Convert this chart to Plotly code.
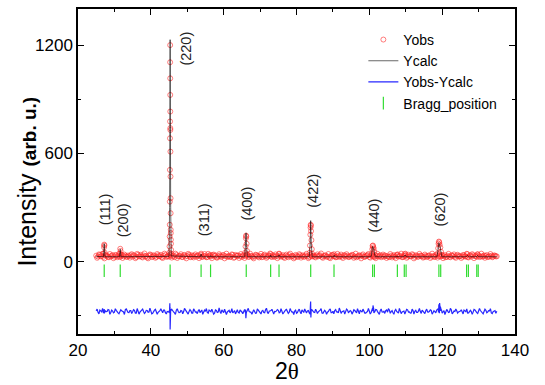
import numpy as np
import plotly.graph_objects as go

# ---------------- data ----------------
# background scan grid 25.0 .. 135.0 (step 0.5) and interleaved grid 25.25 .. 134.75
bg_start, bg_step = 25.0, 0.5
obs_bg = [
    34, 29, 38, 31, 27, 36, 33, 25, 30, 37, 28, 35, 32, 26, 39, 30, 34, 27, 31, 36,
    29, 33, 26, 38, 31, 28, 35, 30, 24, 34, 37, 29, 32, 27, 36, 31, 25, 33, 38, 30,
    28, 34, 31, 26, 37, 30, 33, 27, 35, 29, 32, 38, 25, 31, 34, 28, 36, 30, 27, 33,
    31, 26, 35, 29, 37, 32, 24, 30, 34, 28, 36, 31, 27, 33, 29, 38, 25, 32, 35, 30,
    27, 34, 31, 36, 28, 33, 26, 30, 37, 29, 32, 25, 35, 31, 28, 34, 30, 36, 27, 33,
    29, 35, 31, 26, 34, 30, 37, 28, 32, 25, 33, 29, 36, 31, 27, 35, 30, 26, 34, 32,
    28, 33, 30, 36, 27, 31, 35, 29, 24, 32, 37, 30, 26, 34, 31, 28, 35, 29, 33, 27,
    32, 36, 29, 25, 33, 30, 35, 28, 31, 37, 27, 34, 30, 26, 32, 29, 36, 31, 28, 33,
    30, 26, 34, 31, 28, 36, 29, 33, 25, 31, 35, 28, 32, 30, 37, 27, 33, 29, 34, 31,
    27, 33, 30, 35, 28, 32, 26, 34, 31, 29, 36, 30, 25, 33, 28, 35, 31, 27, 34, 30,
    32, 28, 35, 30, 26, 33, 29, 36, 31, 27, 34, 30, 28, 35, 32, 26, 31, 33, 29, 34,
    30,
]
obs_bg2 = [
    22, 41, 30, 45, 19, 36, 27, 43, 33, 20, 38, 25, 44, 31, 21, 40, 28, 35, 23, 42,
    37, 20, 44, 29, 39, 24, 46, 32, 19, 41, 26, 36, 22, 43, 30, 38, 21, 45, 27, 34,
    40, 23, 35, 45, 21, 31, 42, 26, 38, 19, 44, 29, 36, 24, 41, 33, 20, 39, 28, 43,
    25, 44, 31, 20, 40, 35, 23, 42, 28, 37, 19, 45, 30, 26, 41, 22, 38, 34, 21, 43,
    36, 21, 42, 27, 45, 30, 19, 39, 33, 24, 44, 28, 40, 22, 35, 46, 26, 31, 41, 20,
    43, 28, 37, 21, 40, 25, 45, 32, 19, 38, 27, 42, 23, 36, 30, 44, 20, 39, 29, 34,
    24, 41, 33, 46, 22, 35, 28, 43, 20, 38, 31, 25, 44, 27, 40, 21, 36, 42, 26, 32,
    39, 22, 45, 30, 36, 19, 41, 27, 34, 43, 23, 38, 29, 20, 44, 32, 25, 40, 35, 21,
    28, 43, 24, 37, 20, 41, 31, 45, 26, 35, 22, 39, 30, 42, 19, 36, 27, 44, 33, 23,
    40, 26, 34, 21, 45, 29, 38, 23, 42, 31, 20, 37, 27, 44, 25, 35, 41, 22, 39, 30,
    21, 38, 29, 44, 24, 36, 42, 20, 33, 40, 26, 45, 31, 22, 37, 28, 43, 25, 35, 30,
]
diff_bg = [
    -272, -280, -268, -277, -284, -270, -275, -266, -281, -273, -279, -269, -283, -274, -271, -278, -265, -276, -282, -270,
    -277, -269, -284, -273, -279, -266, -275, -281, -270, -278, -272, -285, -268, -276, -280, -271, -274, -267, -282, -275,
    -279, -270, -276, -283, -268, -274, -281, -272, -277, -266, -280, -275, -271, -284, -269, -278, -273, -282, -267, -276,
    -274, -281, -268, -277, -272, -285, -270, -279, -275, -266, -282, -273, -278, -269, -276, -283, -271, -274, -280, -267,
    -278, -272, -283, -269, -276, -280, -271, -275, -284, -268, -277, -273, -281, -266, -279, -274, -270, -282, -275, -272,
    -269, -279, -274, -282, -267, -276, -280, -271, -278, -273, -285, -270, -277, -266, -281, -275, -272, -283, -268, -276,
    -281, -273, -277, -268, -284, -271, -275, -279, -266, -282, -274, -270, -278, -283, -269, -276, -272, -280, -267, -277,
    -274, -280, -270, -283, -276, -268, -279, -272, -284, -275, -269, -281, -273, -277, -266, -282, -271, -278, -274, -270,
    -279, -267, -276, -282, -271, -275, -284, -269, -278, -273, -280, -266, -277, -283, -270, -274, -281, -272, -276, -268,
    -283, -271, -278, -274, -269, -281, -276, -267, -280, -273, -285, -270, -277, -272, -279, -266, -282, -275, -271, -278,
    -273, -280, -268, -277, -284, -271, -276, -279, -267, -282, -274, -270, -281, -275, -269, -278, -272, -283, -276, -270,
    -274,
]
diff_bg2 = [
    -262, -289, -271, -258, -286, -276, -264, -291, -268, -283, -260, -279, -288, -266, -273, -292, -261, -281, -270, -287,
    -265, -284, -259, -290, -274, -262, -286, -269, -280, -257, -288, -272, -263, -291, -277, -260, -283, -267, -289, -275,
    -286, -263, -278, -292, -260, -282, -270, -288, -258, -276, -290, -265, -284, -261, -279, -287, -264, -273, -291, -268,
    -259, -285, -273, -262, -290, -267, -281, -256, -287, -274, -263, -292, -270, -283, -260, -278, -289, -266, -284, -271,
    -288, -264, -280, -258, -277, -291, -266, -285, -261, -274, -289, -269, -282, -257, -287, -272, -263, -290, -276, -265,
    -283, -260, -289, -271, -264, -286, -259, -279, -292, -268, -281, -262, -288, -275, -261, -284, -270, -290, -266, -280,
    -263, -287, -274, -259, -285, -269, -291, -276, -261, -282, -288, -265, -278, -256, -286, -273, -290, -262, -281, -270,
    -290, -266, -281, -260, -288, -272, -262, -284, -277, -258, -289, -268, -283, -264, -276, -291, -261, -279, -286, -267,
    -260, -285, -270, -291, -264, -280, -258, -287, -273, -289, -263, -278, -284, -262, -290, -269, -281, -259, -286, -274,
    -287, -262, -279, -266, -290, -271, -283, -260, -285, -268, -276, -292, -264, -281, -258, -288, -273, -261, -284, -277,
    -266, -289, -275, -261, -283, -269, -291, -264, -280, -286, -259, -277, -288, -263, -282, -271, -260, -287, -274, -285,
]

# observed points inside the reflections
obs_peak_x = [27.05, 27.15, 27.2, 27.25, 27.35,
              31.5, 31.6, 31.7, 31.8,
              45.10, 45.14, 45.17, 45.20, 45.22, 45.24, 45.26, 45.28, 45.30, 45.31,
              45.32, 45.33, 45.34, 45.35, 45.36, 45.38, 45.40, 45.42, 45.44, 45.46,
              45.48, 45.50, 45.53, 45.56, 45.60,
              53.8, 56.4,
              65.9, 66.0, 66.1, 66.15, 66.2, 66.3, 66.4, 66.5,
              72.9, 75.2,
              83.6, 83.7, 83.8, 83.85, 83.9, 83.95, 84.0, 84.1, 84.2, 84.3,
              90.3,
              100.6, 100.8, 100.9, 101.0, 101.1, 101.2, 101.4, 101.6,
              107.7, 109.7, 109.9,
              118.7, 118.9, 119.0, 119.1, 119.2, 119.3, 119.5, 119.7, 119.9,
              126.9, 129.7]
obs_peak_y = [45, 80, 95, 90, 50,
              45, 72, 60, 38,
              50, 85, 140, 205, 333, 509, 684, 777, 1105, 1200,
              1016, 924, 832, 740, 730, 610, 472, 352, 269, 177,
              159, 122, 100, 66, 45,
              45, 38,
              50, 85, 130, 145, 140, 100, 60, 40,
              42, 45,
              50, 90, 150, 190, 205, 200, 170, 120, 70, 45,
              42,
              45, 70, 88, 90, 80, 72, 55, 38,
              38, 42, 45,
              45, 75, 100, 112, 108, 95, 80, 55, 38,
              42, 42]

# calculated profile
calc_x = [25.0, 27.0, 27.2, 27.4, 31.4, 31.6, 31.8,
          45.0, 45.15, 45.3, 45.45, 45.6,
          53.6, 53.8, 54.0, 56.3, 56.4, 56.5,
          65.8, 66.0, 66.15, 66.3, 66.5,
          72.8, 72.9, 73.0, 75.0, 75.2, 75.4,
          83.5, 83.75, 83.9, 84.05, 84.3,
          90.2, 90.35, 90.5,
          100.5, 100.9, 101.2, 101.6,
          107.6, 107.7, 107.8, 109.5, 109.8, 110.1,
          118.6, 119.1, 119.4, 119.9,
          126.6, 126.95, 127.3, 129.4, 129.7, 130.0, 135.0]
calc_y = [30, 28, 100, 28, 28, 70, 28,
          30, 300, 1230, 300, 32,
          28, 42, 28, 28, 34, 28,
          28, 80, 160, 80, 28,
          28, 36, 28, 28, 38, 28,
          28, 100, 228, 100, 28,
          28, 36, 28,
          28, 85, 70, 28,
          28, 33, 28, 28, 38, 28,
          28, 105, 85, 28,
          28, 35, 28, 28, 35, 28, 28]

# difference features inside the reflections
diff_peak_x = [27.2, 31.6,
               45.15, 45.22, 45.27, 45.30, 45.33, 45.37, 45.45,
               66.0, 66.1, 66.2,
               83.8, 83.88, 83.95, 84.05,
               100.9, 101.0, 101.2,
               118.9, 119.1, 119.3, 119.5, 119.8]
diff_peak_y = [-262, -266,
               -265, -230, -250, -375, -330, -285, -262,
               -265, -312, -285,
               -250, -220, -308, -265,
               -255, -242, -260,
               -260, -235, -228, -248, -265]

bragg_x = [27.2, 31.6, 45.3, 53.8, 56.4, 66.2, 72.9, 75.2, 83.9, 90.3,
           100.9, 101.4, 107.7, 109.6, 110.1, 119.1, 119.6, 126.7, 127.2,
           129.5, 129.9]
bragg_y = [-50] * len(bragg_x)

hkl_labels = ["(111)", "(200)", "(220)", "(311)", "(400)", "(422)", "(440)", "(620)"]
hkl_x = [27.3, 32.2, 49.4, 54.6, 66.5, 84.6, 101.3, 119.4]
hkl_y = [288, 232, 1181, 230, 324, 395, 257, 290]

# ---------------- assemble ----------------
bg_x = [bg_start + i * bg_step for i in range(len(obs_bg))]
bg_x2 = [bg_start + bg_step / 2 + i * bg_step for i in range(len(obs_bg2))]

ox = np.array(bg_x + bg_x2 + obs_peak_x)
oy = np.array(obs_bg + obs_bg2 + obs_peak_y)
o = np.argsort(ox, kind="stable")
ox, oy = ox[o], oy[o]

dx = np.array(bg_x + bg_x2 + diff_peak_x)
dy = np.array(diff_bg + diff_bg2 + diff_peak_y)
d = np.argsort(dx, kind="stable")
dx, dy = dx[d], dy[d]

fig = go.Figure()
fig.add_trace(go.Scatter(
    x=ox, y=oy, mode="markers", name="Yobs",
    marker=dict(symbol="circle-open", size=5, color="rgba(255,40,40,0.6)",
                line=dict(width=1, color="rgba(255,40,40,0.6)")),
))
fig.add_trace(go.Scatter(
    x=calc_x, y=calc_y, mode="lines", name="Ycalc",
    line=dict(color="rgba(0,0,0,0.6)", width=1),
))
fig.add_trace(go.Scatter(
    x=dx, y=dy, mode="lines", name="Yobs-Ycalc",
    line=dict(color="rgba(0,0,255,0.85)", width=1.2),
))
fig.add_trace(go.Scatter(
    x=bragg_x, y=bragg_y, mode="markers", name="Bragg_position",
    marker=dict(symbol="line-ns-open", size=9, color="#33dd33",
                line=dict(width=1.2, color="#33dd33")),
))

for lab, xx, yy in zip(hkl_labels, hkl_x, hkl_y):
    fig.add_annotation(x=xx, y=yy, text=lab, textangle=-90, showarrow=False,
                       xref="x", yref="y",
                       font=dict(family="Liberation Sans, Arial", size=14.5, color="#222"))

fig.add_annotation(
    xref="paper", yref="paper", x=-51 / 437, y=0.469,
    text="Intensity <b><span style='font-size:19px'>(arb. u.)</span></b>",
    textangle=-90, showarrow=False, xanchor="center", yanchor="middle",
    font=dict(family="Liberation Sans, Arial", size=25, color="black"),
)
fig.add_annotation(
    xref="paper", yref="paper", x=0.478, y=-37 / 325,
    text="2<span style='font-family:Liberation Serif, Times New Roman'>θ</span>",
    showarrow=False, xanchor="center", yanchor="middle",
    font=dict(family="Liberation Sans, Arial", size=23, color="black"),
)

axis_common = dict(
    showline=True, linecolor="black", linewidth=1.5, mirror="ticks",
    ticks="inside", ticklen=6, tickwidth=1.3, tickcolor="black",
    showgrid=False, zeroline=False, automargin=False,
    tickfont=dict(family="Liberation Sans, Arial", size=17, color="black"),
)
fig.update_xaxes(range=[20, 140], tick0=20, dtick=20,
                 minor=dict(dtick=10, ticklen=3, tickwidth=1.3, tickcolor="black", ticks="inside"),
                 **axis_common)
fig.update_yaxes(range=[-400, 1400], tick0=0, dtick=600,
                 minor=dict(dtick=300, ticklen=3, tickwidth=1.3, tickcolor="black", ticks="inside"),
                 **axis_common)

fig.update_layout(
    width=545, height=385,
    margin=dict(l=78, r=30, t=9, b=51, autoexpand=False),
    paper_bgcolor="white", plot_bgcolor="white",
    font=dict(family="Liberation Sans, Arial", color="black"),
    legend=dict(x=0.653, y=0.954, xanchor="left", yanchor="top",
                bgcolor="rgba(0,0,0,0)", font=dict(size=14),
                tracegroupgap=0, itemwidth=30),
)

fig.write_html("out.html", config={"displayModeBar": False},
               post_script="document.body.style.margin='0';document.body.style.padding='0';")
